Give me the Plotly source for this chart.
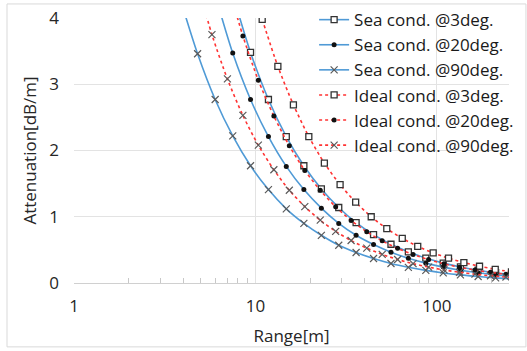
import plotly.graph_objects as go

# ---- data ----
sea_range_90 = [3.85, 4.8, 6.0, 7.5, 9.4, 11.8, 14.8, 18.5, 23.1, 28.8, 35.9, 44.8, 55.9, 69.7, 87, 108.5, 135, 169, 211, 263]
sea_att_90 = [4.29, 3.46, 2.77, 2.22, 1.77, 1.41, 1.12, 0.90, 0.72, 0.57, 0.46, 0.37, 0.295, 0.237, 0.19, 0.152, 0.122, 0.098, 0.078, 0.063]

sea_range_20 = [6.0, 7.5, 9.4, 11.8, 14.8, 18.5, 23.1, 28.8, 35.9, 44.8, 55.9, 69.7, 87, 108.5, 135, 169, 211, 263]
sea_att_20 = [4.35, 3.47, 2.77, 2.21, 1.76, 1.41, 1.13, 0.90, 0.72, 0.58, 0.465, 0.373, 0.30, 0.24, 0.193, 0.154, 0.123, 0.099]

sea_range_3 = [7.5, 9.4, 11.8, 14.8, 18.5, 23.1, 28.8, 35.9, 44.8, 55.9, 69.7, 87, 108.5, 135, 169, 211, 263]
sea_att_3 = [4.36, 3.48, 2.77, 2.21, 1.77, 1.42, 1.14, 0.91, 0.73, 0.585, 0.47, 0.376, 0.30, 0.242, 0.193, 0.155, 0.124]

ideal_range_90 = [4.73, 5.76, 7.01, 8.53, 10.38, 12.64, 15.38, 18.72, 22.78, 27.7, 33.7, 41.1, 50.0, 60.8, 74.0, 90.1, 109.6, 133.4, 162.4, 197.6, 240.5, 292.7]
ideal_att_90 = [4.57, 3.75, 3.08, 2.53, 2.08, 1.71, 1.40, 1.154, 0.948, 0.78, 0.641, 0.526, 0.432, 0.355, 0.292, 0.24, 0.197, 0.162, 0.133, 0.109, 0.09, 0.074]

ideal_range_20 = [7.01, 8.53, 10.38, 12.64, 15.38, 18.72, 22.78, 27.7, 33.7, 41.1, 50.0, 60.8, 74.0, 90.1, 109.6, 133.4, 162.4, 197.6, 240.5, 292.7]
ideal_att_20 = [4.54, 3.73, 3.06, 2.52, 2.07, 1.70, 1.40, 1.15, 0.944, 0.774, 0.636, 0.523, 0.43, 0.353, 0.29, 0.238, 0.196, 0.161, 0.132, 0.109]

ideal_range_3 = [10.9, 13.3, 16.2, 19.7, 24.0, 29.3, 35.7, 43.5, 53.0, 64.5, 78.5, 95.5, 116, 141, 172, 210, 258]
ideal_att_3 = [3.98, 3.27, 2.69, 2.21, 1.81, 1.485, 1.22, 1.00, 0.82, 0.674, 0.554, 0.455, 0.375, 0.308, 0.253, 0.207, 0.168]

names = ["Sea cond. @3deg.", "Sea cond. @20deg.", "Sea cond. @90deg.",
         "Ideal cond. @3deg.", "Ideal cond. @20deg.", "Ideal cond. @90deg."]
y_ticks = [0, 1, 2, 3, 4]
x_ticks = [1, 10, 100]
x_tick_labels = ["1", "10", "100"]
x_minor_ticks = [2, 3, 4, 5, 6, 7, 8, 9, 20, 30, 40, 50, 60, 70, 80, 90, 200]

BLUE = "#4f9ad6"
RED = "#ff3333"
FONT = "Open Sans"

sq = dict(symbol="square", size=6, color="white", line=dict(color="#333333", width=1.3))
dot = dict(symbol="circle", size=5, color="#111111", line=dict(width=0))
cross = dict(symbol="x-thin", size=7, color="#5a5a5a", line=dict(color="#5a5a5a", width=1.2))

series = [
    (sea_range_3, sea_att_3, names[0], BLUE, "solid", sq),
    (sea_range_20, sea_att_20, names[1], BLUE, "solid", dot),
    (sea_range_90, sea_att_90, names[2], BLUE, "solid", cross),
    (ideal_range_3, ideal_att_3, names[3], RED, "3px,3px", sq),
    (ideal_range_20, ideal_att_20, names[4], RED, "3px,3px", dot),
    (ideal_range_90, ideal_att_90, names[5], RED, "3px,3px", cross),
]

fig = go.Figure()
for xr, ya, nm, col, dash, mk in series:
    fig.add_trace(go.Scatter(
        x=xr, y=ya, name=nm, mode="lines+markers",
        line=dict(color=col, width=1.6, dash=dash, shape="spline", smoothing=0.8),
        marker=mk, cliponaxis=True,
    ))

fig.update_layout(
    width=527, height=351,
    margin=dict(l=74, r=18, t=18, b=68, autoexpand=False),
    paper_bgcolor="white", plot_bgcolor="white",
    font=dict(family=FONT, size=17, color="#262626"),
    showlegend=True,
    legend=dict(x=0.552, y=1.06, xanchor="left", yanchor="top",
                bgcolor="rgba(0,0,0,0)", borderwidth=0,
                font=dict(family=FONT, size=17, color="#1a1a1a"),
                tracegroupgap=0, itemwidth=30),
)

fig.update_xaxes(
    type="log", range=[0, 2.398],
    tickvals=x_ticks, ticktext=x_tick_labels,
    showgrid=True, gridcolor="#e3e3e3", gridwidth=1,
    showline=True, linecolor="#d0d0d0", linewidth=1,
    ticks="", ticklabelstandoff=8,
    minor=dict(ticks="inside", ticklen=5, tickcolor="#c8c8c8", showgrid=False,
               tickvals=x_minor_ticks),
    title=dict(text="Range[m]", standoff=13, font=dict(size=17)),
    tickfont=dict(size=17), zeroline=False,
)
fig.update_yaxes(
    range=[0, 4], tickvals=y_ticks,
    showgrid=True, gridcolor="#e3e3e3", gridwidth=1,
    showline=False, ticks="", ticklabelstandoff=14,
    title=dict(text="Attenuation[dB/m]", standoff=8, font=dict(size=17)),
    tickfont=dict(size=17), zeroline=False,
)

# chart-area border
fig.add_shape(type="rect", xref="paper", yref="paper",
              x0=-0.154, x1=1.039, y0=-0.241, y1=1.053,
              line=dict(color="#d9d9d9", width=1), fillcolor="rgba(0,0,0,0)", layer="below")

fig.write_html("out.html")
